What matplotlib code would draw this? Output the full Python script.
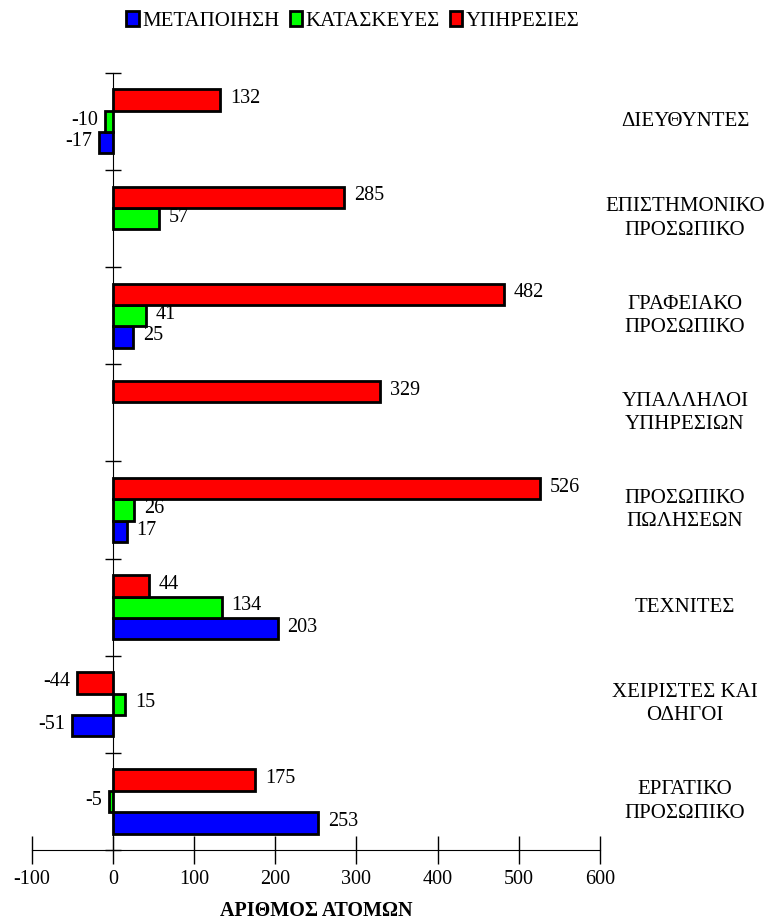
import numpy as np
import matplotlib
matplotlib.use("Agg")
import matplotlib.pyplot as plt

plt.rcParams["font.family"] = ["Liberation Serif", "DejaVu Serif"]
plt.rcParams["axes.unicode_minus"] = False

# δεδομένα
categories = [
    "ΔΙΕΥΘΥΝΤΕΣ",
    "ΕΠΙΣΤΗΜΟΝΙΚΟ\nΠΡΟΣΩΠΙΚΟ",
    "ΓΡΑΦΕΙΑΚΟ\nΠΡΟΣΩΠΙΚΟ",
    "ΥΠΑΛΛΗΛΟΙ\nΥΠΗΡΕΣΙΩΝ",
    "ΠΡΟΣΩΠΙΚΟ\nΠΩΛΗΣΕΩΝ",
    "ΤΕΧΝΙΤΕΣ",
    "ΧΕΙΡΙΣΤΕΣ ΚΑΙ\nΟΔΗΓΟΙ",
    "ΕΡΓΑΤΙΚΟ\nΠΡΟΣΩΠΙΚΟ",
]
series_names = ["ΜΕΤΑΠΟΙΗΣΗ", "ΚΑΤΑΣΚΕΥΕΣ", "ΥΠΗΡΕΣΙΕΣ"]
metapoiisi = [-17, None, 25, None, 17, 203, -51, 253]
kataskeves = [-10, 57, 41, None, 26, 134, 15, -5]
ypiresies = [132, 285, 482, 329, 526, 44, -44, 175]
colors = ["#0000FF", "#00FF00", "#FF0000"]

fig = plt.figure(figsize=(7.79, 9.22), dpi=100)
ax = fig.add_axes([0.041, 0.078, 0.729, 0.843])

n = len(categories)
y = np.arange(n)
h = 0.22
offsets = [h, 0, -h]  # μπλε κάτω, κόκκινο πάνω

for vals, name, col, off in zip([metapoiisi, kataskeves, ypiresies], series_names, colors, offsets):
    v = np.array([np.nan if x is None else x for x in vals], dtype=float)
    ax.barh(y + off, v, height=h, color=col, edgecolor="black", linewidth=2, label=name)
    for yi, val in zip(y, v):
        if np.isnan(val):
            continue
        if val >= 0:
            ax.annotate(f"{int(val)}", xy=(val, yi + off), xytext=(7, 1), textcoords="offset points",
                        ha="left", va="center", fontsize=14.5)
        else:
            ax.annotate(f"{int(val)}", xy=(val, yi + off), xytext=(-5, 1), textcoords="offset points",
                        ha="right", va="center", fontsize=14.5)

ax.set_ylim(n - 0.5, -0.5)
ax.set_xlim(-100, 600)
ax.set_xticks(np.arange(-100, 601, 100))
ax.tick_params(axis="x", direction="inout", length=20, width=1, labelsize=14.5, pad=4)
ax.set_yticks(np.arange(-0.5, n, 1))
ax.set_yticklabels([])
ax.tick_params(axis="y", direction="inout", length=12, width=1)

ax.spines["top"].set_visible(False)
ax.spines["right"].set_visible(False)
ax.spines["left"].set_position(("data", 0))

for yi, cat in zip(y, categories):
    ax.text(1.15, yi, cat, transform=ax.get_yaxis_transform(), ha="center", va="center",
            fontsize=15, linespacing=1.3, clip_on=False)

ax.set_xlabel("ΑΡΙΘΜΟΣ ΑΤΟΜΩΝ", fontsize=14.5, fontweight="bold", labelpad=9)

leg = fig.legend(loc="center", bbox_to_anchor=(0.453, 0.977), ncol=3, frameon=False,
                 handlelength=0.6, handleheight=0.7, handletextpad=0.15, columnspacing=0.5,
                 fontsize=15)

fig.savefig("out.png", dpi=100)
